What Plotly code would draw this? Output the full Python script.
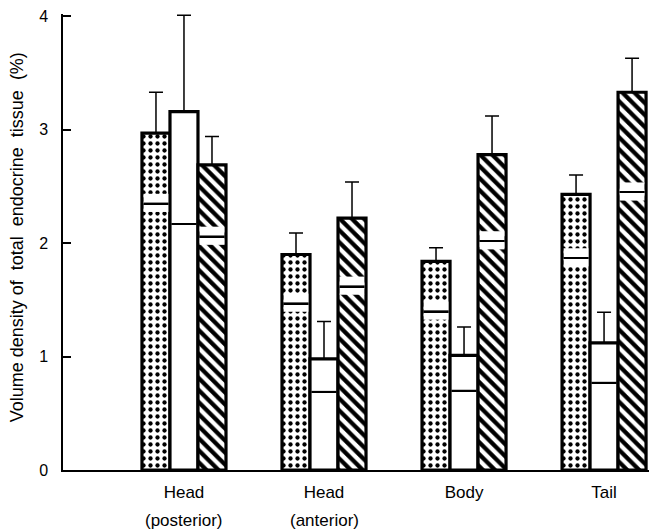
import numpy as np
import plotly.graph_objects as go

# ---- data ----
regions = ["Head", "Head", "Body", "Tail"]
region_sub = ["(posterior)", "(anterior)", "", ""]

dotted_total = [2.97, 1.90, 1.84, 2.43]
dotted_split = [2.35, 1.47, 1.40, 1.87]
dotted_err = [0.36, 0.19, 0.12, 0.17]

open_total = [3.16, 0.98, 1.01, 1.12]
open_split = [2.17, 0.69, 0.70, 0.77]
open_err = [0.85, 0.33, 0.25, 0.27]

hatch_total = [2.69, 2.22, 2.78, 3.33]
hatch_split = [2.06, 1.62, 2.02, 2.45]
hatch_err = [0.25, 0.32, 0.34, 0.30]

y_ticks = [0, 1, 2, 3, 4]
y_title = "Volume density of  total  endocrine  tissue  (%)"

# ---- styling ----
FONT = "Liberation Sans, Arial, sans-serif"
BAR_W = 0.2
offsets = [-0.2, 0.0, 0.2]
patterns = [
    dict(shape=".", size=7, solidity=0.3, fgcolor="black", bgcolor="white", fillmode="replace"),
    None,
    dict(shape="\\", size=8.5, solidity=0.5, fgcolor="black", bgcolor="white", fillmode="replace"),
]
series = [
    (dotted_total, dotted_split, dotted_err),
    (open_total, open_split, open_err),
    (hatch_total, hatch_split, hatch_err),
]

pos = np.arange(len(regions))
fig = go.Figure()

for k, (tot, spl, err) in enumerate(series):
    x = pos + offsets[k]
    marker = dict(color="white", line=dict(color="black", width=3.2))
    if patterns[k] is not None:
        marker["pattern"] = patterns[k]
    fig.add_trace(go.Bar(
        x=x, y=tot, width=BAR_W, marker=marker,
        error_y=dict(type="data", array=err, arrayminus=[0] * len(err),
                     symmetric=False, color="black", thickness=1.5, width=7),
        showlegend=False, hoverinfo="skip"))

for k, (tot, spl, err) in enumerate(series):
    x = pos + offsets[k]
    spl = np.array(spl)
    if patterns[k] is not None:
        # white gap around the dividing line
        fig.add_trace(go.Bar(
            x=x, y=[0.16] * len(spl), base=spl - 0.075, width=BAR_W - 0.023,
            marker=dict(color="white", line=dict(width=0)),
            showlegend=False, hoverinfo="skip"))
    # thin dividing line
    fig.add_trace(go.Bar(
        x=x, y=[0.015] * len(spl), base=spl - 0.0075, width=BAR_W - 0.02,
        marker=dict(color="black", line=dict(width=0)),
        showlegend=False, hoverinfo="skip"))

for i, sub in enumerate(region_sub):
    if sub:
        fig.add_annotation(x=pos[i], xref="x", y=-0.11, yref="paper",
                           text=sub, showarrow=False, xanchor="center", yanchor="middle",
                           font=dict(family=FONT, size=17, color="black"))

fig.add_annotation(x=-0.077, xref="paper", y=0.51, yref="paper", text=y_title,
                   textangle=-90, showarrow=False, xanchor="center", yanchor="middle",
                   font=dict(family=FONT, size=18, color="black"))

fig.update_layout(
    width=649, height=529,
    margin=dict(l=63, r=0, t=14, b=59),
    paper_bgcolor="white", plot_bgcolor="white",
    barmode="overlay",
    font=dict(family=FONT, color="black"),
    xaxis=dict(range=[-0.864, 3.321], tickvals=list(pos), ticktext=regions,
               showline=True, linecolor="black", linewidth=1.5,
               ticks="", showgrid=False, zeroline=False,
               tickfont=dict(family=FONT, size=17, color="black"),
               ticklabelstandoff=6, fixedrange=True),
    yaxis=dict(range=[0, 4.02], tickvals=y_ticks, ticktext=[str(v) for v in y_ticks],
               showline=True, linecolor="black", linewidth=1.5,
               ticks="inside", ticklen=8, tickwidth=1.5, tickcolor="black",
               showgrid=False, zeroline=False,
               tickfont=dict(family=FONT, size=16, color="black"),
               ticklabelstandoff=10, fixedrange=True),
)

fig.write_html("out.html")
